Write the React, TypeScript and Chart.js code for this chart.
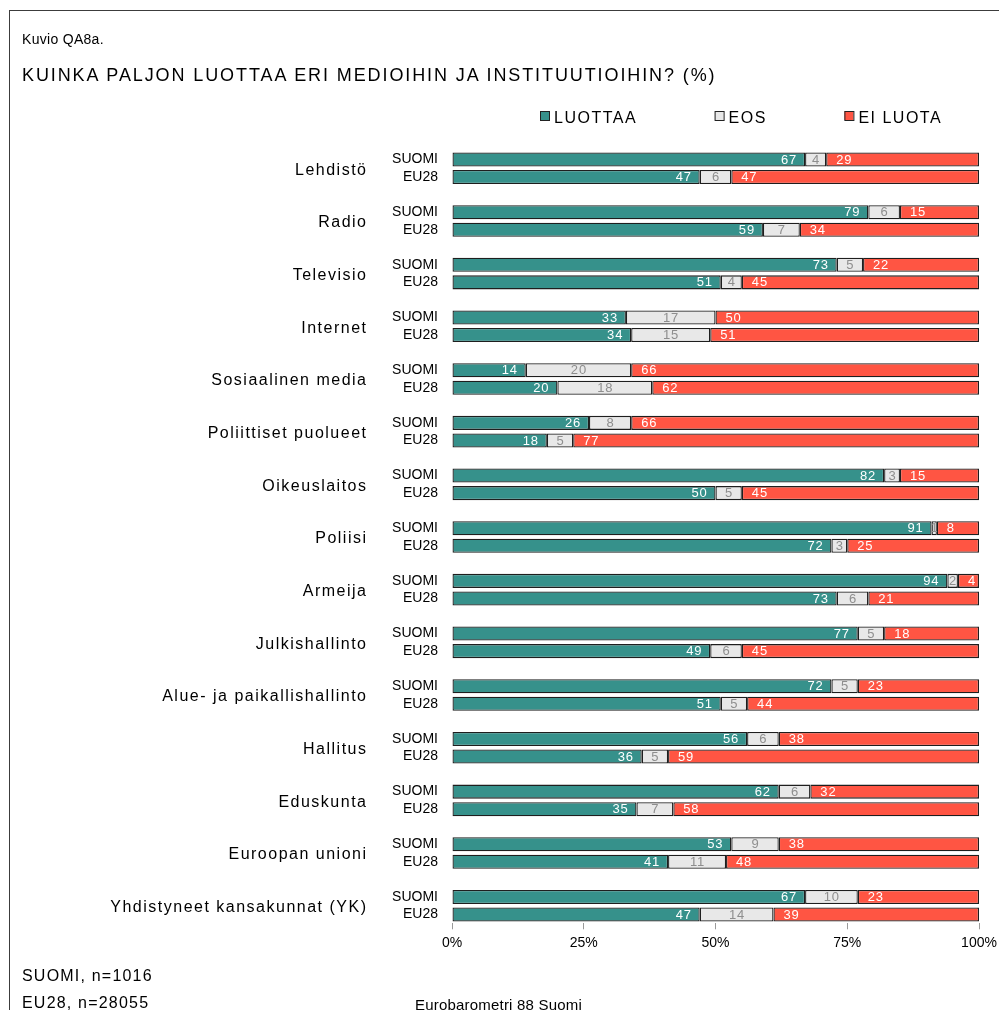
import React, { useEffect, useRef } from "react";
import { Chart, registerables } from "chart.js";

Chart.register(...registerables);

// ---------- data ----------
const categories = [
  "Lehdistö",
  "Radio",
  "Televisio",
  "Internet",
  "Sosiaalinen media",
  "Poliittiset puolueet",
  "Oikeuslaitos",
  "Poliisi",
  "Armeija",
  "Julkishallinto",
  "Alue- ja paikallishallinto",
  "Hallitus",
  "Eduskunta",
  "Euroopan unioni",
  "Yhdistyneet kansakunnat (YK)",
];
const rowLabels = ["SUOMI", "EU28"];
const seriesNames = ["LUOTTAA", "EOS", "EI LUOTA"];

const suomiLuottaa = [67, 79, 73, 33, 14, 26, 82, 91, 94, 77, 72, 56, 62, 53, 67];
const suomiEos = [4, 6, 5, 17, 20, 8, 3, 1, 2, 5, 5, 6, 6, 9, 10];
const suomiEiLuota = [29, 15, 22, 50, 66, 66, 15, 8, 4, 18, 23, 38, 32, 38, 23];

const eu28Luottaa = [47, 59, 51, 34, 20, 18, 50, 72, 73, 49, 51, 36, 35, 41, 47];
const eu28Eos = [6, 7, 4, 15, 18, 5, 5, 3, 6, 6, 5, 5, 7, 11, 14];
const eu28EiLuota = [47, 34, 45, 51, 62, 77, 45, 25, 21, 45, 44, 59, 58, 48, 39];

const xTicks = [0, 25, 50, 75, 100];

const titleSmall = "Kuvio QA8a.";
const titleMain = "KUINKA PALJON LUOTTAA ERI MEDIOIHIN JA INSTITUUTIOIHIN? (%)";
const footerLines = ["SUOMI, n=1016", "EU28, n=28055"];
const sourceText = "Eurobarometri 88 Suomi";

// ---------- styles ----------
const FONT = "'Liberation Sans', Arial, sans-serif";
const COLORS = ["#36918B", "#E8E8E8", "#FF5543"];
const LABEL_COLORS = ["#FFFFFF", "#8E8E8E", "#FFFFFF"];

// build rows: SUOMI, EU28, spacer per category
const rows: string[] = [];
const rowData: (number | null)[][] = [[], [], []];
const suomiSeries = [suomiLuottaa, suomiEos, suomiEiLuota];
const eu28Series = [eu28Luottaa, eu28Eos, eu28EiLuota];
categories.forEach((_, i) => {
  rows.push(rowLabels[0]);
  suomiSeries.forEach((s, k) => rowData[k].push(s[i]));
  rows.push(rowLabels[1]);
  eu28Series.forEach((s, k) => rowData[k].push(s[i]));
  if (i < categories.length - 1) {
    rows.push("");
    rowData.forEach((d) => d.push(null));
  }
});

const decorPlugin = {
  id: "decor",
  afterDatasetsDraw(chart: any) {
    const ctx = chart.ctx;
    ctx.save();
    ctx.font = `13px ${FONT}`;
    (ctx as any).letterSpacing = "0.8px";
    ctx.textBaseline = "middle";
    chart.data.datasets.forEach((ds: any, di: number) => {
      const meta = chart.getDatasetMeta(di);
      meta.data.forEach((el: any, idx: number) => {
        const v = ds.data[idx];
        if (v === null || v === undefined) return;
        const left = Math.min(el.x, el.base);
        const right = Math.max(el.x, el.base);
        const y = el.y + 0.5;
        ctx.fillStyle = LABEL_COLORS[di];
        const txt = String(v);
        if (di === 0) {
          ctx.textAlign = "right";
          ctx.fillText(txt, right - 8, y);
        } else if (di === 1) {
          ctx.textAlign = "center";
          ctx.fillText(txt, (left + right) / 2 + 0.4, y);
        } else {
          ctx.textAlign = "left";
          ctx.fillText(txt, left + 10, y);
        }
      });
    });
    ctx.restore();
  },
  afterDraw(chart: any) {
    const ctx = chart.ctx;
    const yScale = chart.scales.y;
    ctx.save();
    // group labels
    ctx.font = `16px ${FONT}`;
    (ctx as any).letterSpacing = "1.5px";
    ctx.fillStyle = "#000";
    ctx.textAlign = "right";
    ctx.textBaseline = "middle";
    categories.forEach((c, i) => {
      const y1 = yScale.getPixelForValue(i * 3);
      const y2 = yScale.getPixelForValue(i * 3 + 1);
      ctx.fillText(c, 367.5, (y1 + y2) / 2 + 2);
    });
    // legend
    let x = 540;
    const boxTop = 111;
    chart.data.datasets.forEach((ds: any) => {
      ctx.fillStyle = ds.backgroundColor;
      ctx.fillRect(x, boxTop, 9, 9);
      ctx.strokeStyle = "#222";
      ctx.lineWidth = 1;
      ctx.strokeRect(x + 0.5, boxTop + 0.5, 9, 9);
      ctx.fillStyle = "#000";
      ctx.textAlign = "left";
      ctx.textBaseline = "alphabetic";
      ctx.fillText(ds.label, x + 14, 122.5);
      const w = ctx.measureText(ds.label).width;
      x += 14 + w + 77.5;
    });
    ctx.restore();
  },
};

export default function App() {
  const canvasRef = useRef<HTMLCanvasElement | null>(null);

  useEffect(() => {
    const canvas = canvasRef.current;
    if (!canvas) return;
    const chart = new Chart(canvas, {
      type: "bar",
      data: {
        labels: rows,
        datasets: seriesNames.map((name, k) => ({
          label: name,
          data: rowData[k],
          backgroundColor: COLORS[k],
          borderColor: "#1e1e1e",
          borderWidth: 1.3,
          borderSkipped: false,
          barPercentage: 0.8,
          categoryPercentage: 1,
        })),
      },
      options: {
        indexAxis: "y",
        responsive: false,
        animation: false,
        devicePixelRatio: 1,
        layout: { padding: { top: 150.7, bottom: 46.7, left: 0, right: 20 } },
        plugins: {
          legend: { display: false },
          title: { display: false },
          tooltip: { enabled: false },
        },
        scales: {
          x: {
            type: "linear",
            stacked: true,
            min: 0,
            max: 100,
            afterBuildTicks: (s: any) => {
              s.ticks = xTicks.map((v) => ({ value: v }));
            },
            afterFit: (s: any) => {
              s.height = 40;
              s.paddingLeft = 0;
              s.paddingRight = 0;
            },
            ticks: {
              color: "#000",
              font: { family: FONT, size: 14 },
              padding: 5,
              maxRotation: 0,
              callback: (v: any) => `${v}%`,
            },
            grid: {
              drawOnChartArea: false,
              drawTicks: true,
              tickLength: 6,
              color: "#9a9a9a",
            },
            border: { display: false },
          },
          y: {
            type: "category",
            stacked: true,
            afterFit: (s: any) => {
              s.width = 452;
              s.paddingTop = 0;
              s.paddingBottom = 0;
            },
            ticks: {
              color: "#000",
              font: { family: FONT, size: 14 },
              padding: 14,
              autoSkip: false,
            },
            grid: { display: false, drawTicks: false },
            border: { display: false },
          },
        },
      } as any,
      plugins: [decorPlugin],
    });
    return () => chart.destroy();
  }, []);

  const textBase: React.CSSProperties = {
    position: "absolute",
    fontFamily: FONT,
    color: "#000",
    whiteSpace: "nowrap",
    lineHeight: 1,
    margin: 0,
  };

  return (
    <div
      style={{
        position: "absolute",
        left: 0,
        top: 0,
        width: 999,
        height: 1010,
        overflow: "hidden",
        background: "#fff",
      }}
    >
      <div
        style={{
          position: "absolute",
          left: 9,
          top: 10,
          width: 1100,
          height: 1100,
          border: "1px solid #3c3c3c",
          boxSizing: "border-box",
        }}
      />
      <canvas
        ref={canvasRef}
        width={999}
        height={1010}
        style={{ position: "absolute", left: 0, top: 0, width: 999, height: 1010 }}
      />
      <div style={{ ...textBase, left: 22, top: 32.2, fontSize: 14, letterSpacing: "0.3px" }}>{titleSmall}</div>
      <div style={{ ...textBase, left: 22, top: 65.8, fontSize: 18, letterSpacing: "1.9px" }}>{titleMain}</div>
      <div style={{ ...textBase, left: 22, top: 968, fontSize: 16, letterSpacing: "1.2px" }}>{footerLines[0]}</div>
      <div style={{ ...textBase, left: 22, top: 995, fontSize: 16, letterSpacing: "1.2px" }}>{footerLines[1]}</div>
      <div style={{ ...textBase, left: 415, top: 997, fontSize: 15, letterSpacing: "0.2px" }}>{sourceText}</div>
    </div>
  );
}
